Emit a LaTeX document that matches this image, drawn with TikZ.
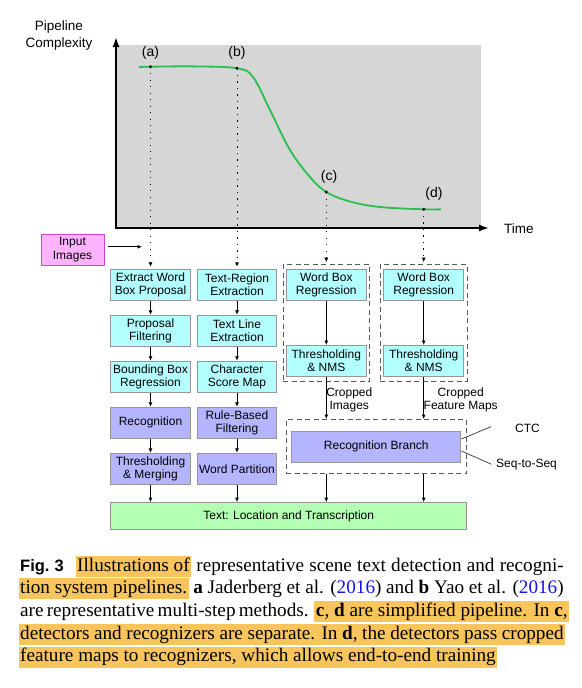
\documentclass[tikz,border=0pt]{standalone}
\usepackage{fontspec}
\setmainfont{Liberation Serif}
\setsansfont{Liberation Sans}
\usepackage{xcolor}
\usetikzlibrary{arrows.meta,fit}

\definecolor{cyanbox}{RGB}{179,255,255}
\definecolor{lavbox}{RGB}{181,181,255}
\definecolor{greenbox}{RGB}{179,255,179}
\definecolor{pinkbox}{RGB}{255,179,255}
\definecolor{pinkline}{RGB}{204,68,204}
\definecolor{boxline}{RGB}{150,150,150}
\definecolor{plotgray}{RGB}{214,214,214}
\definecolor{curvegreen}{RGB}{40,190,80}
\definecolor{hlorange}{RGB}{248,196,92}
\definecolor{citeblue}{RGB}{20,20,235}

\newcommand{\hlt}[1]{{\setlength{\fboxsep}{0pt}\colorbox{hlorange}{\hspace{1.5pt}\rule[-5.7pt]{0pt}{21pt}#1\hspace{1.5pt}}}}
\newcommand{\yr}{\textcolor{citeblue}{2016}}

\begin{document}
\begin{tikzpicture}[
		x=1pt, y=-1pt,
		node distance={46pt},
		box/.style = {draw=boxline, line width=1pt, minimum width=79.6pt, minimum height=31pt, inner sep=1pt, align=center, font=\sffamily\fontsize{12}{13.4}\selectfont},
		det/.style = {box, fill=cyanbox},
		rec/.style = {box, fill=lavbox},
		grp/.style = {draw=black!65, line width=1pt, dash pattern=on 5pt off 3.5pt, inner xsep=3pt, inner ysep=4pt},
		lbl/.style = {font=\sffamily\fontsize{12}{13.4}\selectfont, align=center, inner sep=0pt},
		tag/.style = {font=\sffamily\fontsize{14}{16}\selectfont, inner sep=0pt},
		arrow/.style = {-{Latex[length=4.5pt, width=4pt]}, line width=0.9pt},
		dots/.style = {arrow, dash pattern=on 1.2pt off 5.3pt, shorten >=2pt},
		axis/.style = {{Latex[length=10pt, width=7pt]}-{Latex[length=10pt, width=7pt]}, line width=1.7pt},
		capline/.style = {anchor=base west, inner sep=0pt, font=\fontsize{19.2}{22.7}\selectfont}
		]
		
		\useasboundingbox (0,0) rectangle (581,688);
		\fill[white] (0,0) rectangle (581,688);
		
		% complexity plot
		\fill[plotgray] (116,45) rectangle (481,228);
		\draw[axis] (116,37) -- (116,228) -- (489,228);
		\node[tag, align=center, font=\sffamily\fontsize{13.5}{17}\selectfont] (ylab) at (59,35.5) {Pipeline\\Complexity};
		\node[tag, anchor=west, font=\sffamily\fontsize{13.5}{16}\selectfont] (xlab) at (504,229) {Time};
		
		\draw[curvegreen, line width=1.8pt] plot[smooth, tension=0.6] coordinates {(139,67) (150.5,66.7) (195,66.4) (237,68.3) (253,77) (270,110) (290,150) (310,177) (326.3,192) (350,201.5) (380,207) (423.7,209.3) (441,209.3)};
		
		\coordinate (pa) at (150.5,66.7);
		\coordinate (pb) at (237,68.3);
		\coordinate (pc) at (326.3,192);
		\coordinate (pd) at (423.7,209.3);
		\fill (pa) circle (1.6pt);
		\fill (pb) circle (1.6pt);
		\fill (pc) circle (1.6pt);
		\fill (pd) circle (1.6pt);
		\node[tag] (ta) at (150.5,53) {(a)};
		\node[tag] (tb) at (237,53) {(b)};
		\node[tag] (tc) at (329,177) {(c)};
		\node[tag] (td) at (434,194) {(d)};
		
		% pipelines
		\node[box, fill=pinkbox, draw=pinkline, minimum width=63pt] (inp) at (72.5,249.8) {Input\\Images};
		\coordinate (inend) at (142,246.8);
		
		\node[det] (a1) at (150.5,284.8) {Extract Word\\Box Proposal};
		\node[det] (a2) [below of=a1] {Proposal\\Filtering};
		\node[det] (a3) [below of=a2] {Bounding Box\\Regression};
		\node[rec] (a4) [below of=a3] {Recognition};
		\node[rec] (a5) [below of=a4] {Thresholding\\\& Merging};
		
		\node[det] (b1) at (237,284.8) {Text-Region\\Extraction};
		\node[det] (b2) [below of=b1] {Text Line\\Extraction};
		\node[det] (b3) [below of=b2] {Character\\Score Map};
		\node[rec] (b4) [below of=b3] {Rule-Based\\Filtering};
		\node[rec] (b5) [below of=b4] {Word Partition};
		
		\node[det] (c1) at (326.3,284.7) {Word Box\\Regression};
		\node[det] (c2) [node distance=76.3pt, below of=c1] {Thresholding\\\& NMS};
		\node[det] (d1) at (423.7,284.7) {Word Box\\Regression};
		\node[det] (d2) [node distance=76.3pt, below of=d1] {Thresholding\\\& NMS};
		\node[grp, fit=(c1)(c2)] (cgrp) {};
		\node[grp, fit=(d1)(d2)] (dgrp) {};
		
		\node[rec, minimum width=169.3pt, minimum height=31.3pt] (rb) at (376.3,446.7) {Recognition Branch};
		\node[grp, fit=(rb), inner xsep=5pt, inner ysep=11pt] (rgrp) {};
		\node[lbl] (cropc) at (349.3,400) {Cropped\\Images};
		\node[lbl] (cropd) at (460.7,400) {Cropped\\Feature Maps};
		\node[lbl, anchor=west] (ctc) at (515,428.3) {CTC};
		\node[lbl, anchor=west] (s2s) at (496,464.3) {Seq-to-Seq};
		
		\node[box, fill=greenbox, minimum width=356pt, minimum height=27.3pt] (out) at (288.7,516.3) {Text: Location and Transcription};
		
		\draw[dots] (pa) -- (a1);
		\draw[dots] (pb) -- (b1);
		\draw[dots] (pc) -- (pc |- cgrp.north);
		\draw[dots] (pd) -- (pd |- dgrp.north);
		\draw[arrow] ([shift={(3pt,3pt)}]inp.east) -- (inend);
		
		\draw[arrow] (a1) -- (a2);
		\draw[arrow] (a2) -- (a3);
		\draw[arrow] (a3) -- (a4);
		\draw[arrow] (a4) -- (a5);
		\draw[arrow] (a5) -- (a5 |- out.north);
		\draw[arrow] (b1) -- (b2);
		\draw[arrow] (b2) -- (b3);
		\draw[arrow] (b3) -- (b4);
		\draw[arrow] (b4) -- (b5);
		\draw[arrow] (b5) -- (b5 |- out.north);
		
		\draw[arrow] (c1) -- (c2);
		\draw[arrow] (c2) -- (c2 |- rgrp.north);
		\draw[arrow] (rgrp.south -| c2) -- (c2 |- out.north);
		\draw[arrow] (d1) -- (d2);
		\draw[arrow] (d2) -- (d2 |- rgrp.north);
		\draw[arrow] (rgrp.south -| d2) -- (d2 |- out.north);
		
		\draw[line width=0.7pt, black!80] ([yshift=7.7pt]rb.east) -- ([xshift=-24pt, yshift=1.6pt]ctc.west);
		\draw[line width=0.7pt, black!80] ([yshift=-4.3pt]rb.east) -- ([xshift=-4.5pt]s2s.west);
		
		% caption
		\node[capline] (cap1) at (20,571) {\makebox[543.5pt][s]{{\sffamily\bfseries\fontsize{16.5}{20}\selectfont Fig.~3}\hspace{12pt}\hlt{Illustrations of} representative scene text detection and recogni-}};
		\node[capline] (cap2) at (18.5,593.7) {\makebox[545pt][s]{\hlt{tion system pipelines.} \textbf{a} Jaderberg et al. (\yr) and \textbf{b} Yao et al. (\yr)}};
		\node[capline] (cap3) at (20,616.4) {\makebox[543.5pt][s]{are representative multi-step methods. \hlt{\textbf{c}, \textbf{d} are simplified pipeline. In \textbf{c},}}};
		\node[capline] (cap4) at (18.5,639.1) {\hlt{\makebox[543.5pt][s]{detectors and recognizers are separate. In \textbf{d}, the detectors pass cropped}}};
		\node[capline] (cap5) at (18.5,661.8) {\hlt{feature maps to recognizers, which allows end-to-end training}};
	\end{tikzpicture}
\end{document}
